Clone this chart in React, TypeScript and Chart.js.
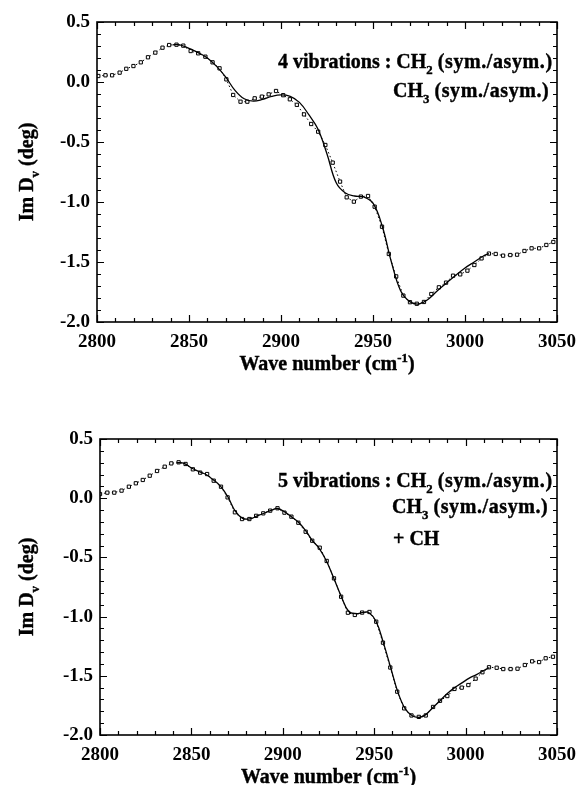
import React, { useEffect, useRef } from 'react';
import { Chart, registerables } from 'chart.js';
Chart.register(...registerables);

const xTickValues = [2800, 2850, 2900, 2950, 3000, 3050];
const yTickValues = [-2.0, -1.5, -1.0, -0.5, 0.0, 0.5];

// ---- upper panel (4 vibrations) ----
const topWave = [2800.7, 2804.6, 2808.2, 2812.3, 2815.9, 2819.8, 2823.8, 2827.7, 2831.7, 2835.6, 2839.2, 2843.2, 2846.9, 2850.9, 2855.0, 2858.9, 2862.8, 2866.6, 2870.3, 2874.0, 2878.0, 2881.7, 2885.7, 2889.6, 2893.3, 2897.3, 2901.2, 2904.8, 2908.6, 2912.5, 2916.4, 2920.2, 2924.1, 2928.1, 2932.1, 2935.7, 2939.6, 2943.4, 2947.3, 2950.9, 2954.9, 2958.6, 2962.6, 2966.5, 2970.1, 2973.8, 2977.7, 2981.7, 2985.8, 2989.7, 2993.5, 2997.4, 3001.3, 3005.1, 3009.0, 3013.0, 3016.7, 3020.7, 3024.6, 3028.3, 3032.3, 3036.2, 3040.3, 3044.2, 3048.0];
const topMeasured = [0.05, 0.056, 0.056, 0.078, 0.11, 0.133, 0.164, 0.206, 0.245, 0.286, 0.308, 0.311, 0.303, 0.258, 0.239, 0.211, 0.164, 0.114, 0.022, -0.108, -0.164, -0.164, -0.136, -0.122, -0.103, -0.075, -0.11, -0.144, -0.19, -0.27, -0.35, -0.414, -0.525, -0.672, -0.83, -0.961, -0.997, -0.955, -0.95, -1.039, -1.206, -1.433, -1.62, -1.78, -1.835, -1.848, -1.833, -1.767, -1.711, -1.672, -1.614, -1.603, -1.572, -1.525, -1.47, -1.43, -1.433, -1.447, -1.442, -1.439, -1.408, -1.386, -1.386, -1.358, -1.333];
const topFitWave = [2841, 2845, 2850, 2855, 2860, 2865, 2870, 2875, 2880, 2885, 2890, 2895, 2900, 2905, 2910, 2915, 2920, 2925, 2930, 2935, 2940, 2945, 2950, 2955, 2960, 2965, 2970, 2975, 2980, 2985, 2990, 2995, 3000, 3005, 3010, 3013];
const topFit = [0.31, 0.31, 0.28, 0.245, 0.2, 0.13, 0.04, -0.07, -0.14, -0.16, -0.145, -0.12, -0.108, -0.12, -0.17, -0.27, -0.39, -0.6, -0.84, -0.925, -0.95, -0.958, -1.01, -1.2, -1.5, -1.74, -1.83, -1.85, -1.81, -1.74, -1.675, -1.61, -1.55, -1.5, -1.45, -1.43];

// ---- lower panel (5 vibrations) ----
const botWave = [2800.0, 2804.0, 2807.8, 2811.8, 2815.8, 2819.6, 2823.4, 2827.2, 2831.2, 2835.4, 2839.0, 2843.0, 2846.8, 2850.8, 2854.8, 2858.6, 2862.2, 2866.2, 2869.8, 2873.8, 2877.7, 2881.7, 2885.4, 2889.3, 2893.1, 2897.1, 2900.9, 2904.7, 2908.5, 2912.5, 2916.1, 2920.2, 2924.0, 2928.0, 2931.9, 2935.6, 2939.4, 2943.4, 2947.4, 2951.1, 2954.8, 2958.8, 2962.6, 2966.4, 2970.4, 2974.4, 2978.2, 2982.2, 2986.0, 2990.0, 2993.9, 2997.9, 3001.5, 3005.5, 3009.2, 3012.8, 3017.0, 3020.6, 3024.6, 3028.4, 3032.4, 3036.4, 3040.2, 3043.8, 3047.8];
const botMeasured = [0.035, 0.047, 0.047, 0.064, 0.097, 0.126, 0.154, 0.19, 0.23, 0.266, 0.294, 0.303, 0.289, 0.244, 0.216, 0.204, 0.148, 0.097, 0.007, -0.119, -0.176, -0.176, -0.149, -0.128, -0.105, -0.085, -0.122, -0.156, -0.207, -0.283, -0.359, -0.418, -0.53, -0.677, -0.832, -0.967, -0.986, -0.966, -0.961, -1.043, -1.22, -1.43, -1.634, -1.775, -1.835, -1.847, -1.835, -1.763, -1.711, -1.671, -1.611, -1.6, -1.578, -1.524, -1.47, -1.428, -1.432, -1.443, -1.443, -1.44, -1.409, -1.378, -1.384, -1.352, -1.339];
const botFitWave = [2842, 2846, 2850, 2855, 2858, 2862, 2866, 2870, 2874, 2878, 2882, 2886, 2890, 2894, 2897, 2901, 2905, 2909, 2913, 2916, 2920, 2924, 2928, 2932, 2936, 2940, 2944, 2947, 2951, 2955, 2959, 2963, 2967, 2971, 2975, 2978, 2982, 2986, 2990, 2994, 2998, 3002, 3006, 3010, 3013];
const botFit = [0.3, 0.295, 0.255, 0.22, 0.2, 0.155, 0.1, 0.01, -0.11, -0.17, -0.175, -0.15, -0.125, -0.1, -0.087, -0.115, -0.16, -0.21, -0.285, -0.355, -0.425, -0.535, -0.68, -0.83, -0.955, -0.975, -0.965, -0.965, -1.04, -1.22, -1.43, -1.64, -1.78, -1.84, -1.85, -1.83, -1.77, -1.71, -1.65, -1.6, -1.56, -1.52, -1.49, -1.455, -1.43];

const FONT_FAMILY = "'Liberation Serif', 'Times New Roman', serif";

type Seg = { t: string; sub?: boolean; sup?: boolean; sp?: number };

function setFont(ctx: CanvasRenderingContext2D, s: Seg, size: number) {
  const fs = s.sub || s.sup ? size * 0.64 : size;
  ctx.font = `bold ${fs}px ${FONT_FAMILY}`;
  (ctx as any).letterSpacing = `${s.sp || 0}px`;
}

function richWidth(ctx: CanvasRenderingContext2D, segs: Seg[], size: number) {
  let w = 0;
  for (const s of segs) {
    setFont(ctx, s, size);
    w += ctx.measureText(s.t).width;
  }
  return w;
}

function drawRich(ctx: CanvasRenderingContext2D, segs: Seg[], x: number, y: number, size: number, center = false) {
  let cx = center ? x - richWidth(ctx, segs, size) / 2 : x;
  ctx.textAlign = 'left';
  ctx.textBaseline = 'alphabetic';
  ctx.fillStyle = '#000';
  ctx.strokeStyle = '#000';
  ctx.lineWidth = 0.4;
  for (const s of segs) {
    setFont(ctx, s, size);
    const dy = s.sub ? size * 0.3 : s.sup ? -size * 0.42 : 0;
    ctx.fillText(s.t, cx, y + dy);
    ctx.strokeText(s.t, cx, y + dy);
    cx += ctx.measureText(s.t).width;
  }
  (ctx as any).letterSpacing = '0px';
}

type PanelText = {
  lines: { segs: Seg[]; x: number; y: number }[];
  xTitleY: number;
  yTitleX: number;
};

function makePlugin(pt: PanelText) {
  return {
    id: 'frameAndText',
    afterDraw(chart: any) {
      const ctx: CanvasRenderingContext2D = chart.ctx;
      const { left, right, top, bottom } = chart.chartArea;
      const xs = chart.scales.x;
      const ys = chart.scales.y;
      ctx.save();
      ctx.strokeStyle = '#000';
      ctx.lineWidth = 1.2;
      for (let v = 2800; v <= 3050; v += 10) {
        const px = Math.round(xs.getPixelForValue(v)) + 0.5;
        const len = v % 50 === 0 ? 7 : 4;
        ctx.beginPath();
        ctx.moveTo(px, bottom);
        ctx.lineTo(px, bottom - len);
        ctx.moveTo(px, top);
        ctx.lineTo(px, top + len);
        ctx.stroke();
      }
      for (let i = -20; i <= 5; i++) {
        const v = i / 10;
        const py = Math.round(ys.getPixelForValue(v)) + 0.5;
        const len = i % 5 === 0 ? 7 : 4;
        ctx.beginPath();
        ctx.moveTo(left, py);
        ctx.lineTo(left + len, py);
        ctx.moveTo(right, py);
        ctx.lineTo(right - len, py);
        ctx.stroke();
      }
      ctx.lineWidth = 1.6;
      ctx.strokeRect(left, top, right - left, bottom - top);

      // axis titles
      drawRich(ctx, [{ t: 'Wave number (cm' }, { t: '-1', sup: true }, { t: ')' }], (left + right) / 2, pt.xTitleY, 20, true);
      ctx.save();
      ctx.translate(pt.yTitleX, (top + bottom) / 2);
      ctx.rotate(-Math.PI / 2);
      drawRich(ctx, [{ t: 'Im D' }, { t: 'v', sub: true }, { t: ' (deg)' }], 0, 6, 20, true);
      ctx.restore();

      for (const ln of pt.lines) drawRich(ctx, ln.segs, ln.x, ln.y, 20);
      ctx.restore();
    },
  };
}

function buildConfig(wave: number[], meas: number[], fitW: number[], fit: number[], yWidth: number, xHeight: number, padding: any, pt: PanelText): any {
  return {
    type: 'line',
    data: {
      datasets: [
        {
          label: 'fit',
          data: fitW.map((x, i) => ({ x, y: fit[i] })),
          borderColor: '#000',
          borderWidth: 1.3,
          pointRadius: 0,
          tension: 0.4,
          fill: false,
          order: 1,
        },
        {
          label: 'measured',
          data: wave.map((x, i) => ({ x, y: meas[i] })),
          borderColor: '#000',
          borderWidth: 1,
          borderDash: [1.5, 2.5],
          pointStyle: 'rect',
          pointRadius: 2.3,
          pointBorderWidth: 1,
          pointBackgroundColor: '#fff',
          pointBorderColor: '#000',
          tension: 0,
          fill: false,
          order: 2,
        },
      ],
    },
    options: {
      animation: false,
      responsive: false,
      layout: { padding },
      plugins: { legend: { display: false }, tooltip: { enabled: false }, title: { display: false } },
      scales: {
        x: {
          type: 'linear',
          min: 2800,
          max: 3050,
          grid: { display: false, drawTicks: false },
          border: { display: false },
          afterBuildTicks: (s: any) => { s.ticks = xTickValues.map((v) => ({ value: v })); },
          afterFit: (s: any) => { s.height = xHeight; },
          ticks: {
            color: '#000',
            padding: 9,
            maxRotation: 0,
            font: { family: FONT_FAMILY, size: 19, weight: 'bold' },
            callback: (v: any) => String(v),
          },
        },
        y: {
          type: 'linear',
          min: -2.0,
          max: 0.5,
          grid: { display: false, drawTicks: false },
          border: { display: false },
          afterBuildTicks: (s: any) => { s.ticks = yTickValues.map((v) => ({ value: v })); },
          afterFit: (s: any) => { s.width = yWidth; },
          ticks: {
            color: '#000',
            padding: 7,
            font: { family: FONT_FAMILY, size: 19, weight: 'bold' },
            callback: (v: any) => Number(v).toFixed(1),
          },
        },
      },
    },
    plugins: [makePlugin(pt)],
  };
}

function Panel(props: { top: number; height: number; cfg: any }) {
  const ref = useRef<HTMLCanvasElement>(null);
  useEffect(() => {
    if (!ref.current) return;
    const ch = new Chart(ref.current, props.cfg);
    return () => ch.destroy();
  }, []);
  return (
    <canvas
      ref={ref}
      width={585}
      height={props.height}
      style={{ position: 'absolute', left: 0, top: props.top, width: 585, height: props.height, display: 'block' }}
    />
  );
}

export default function App() {
  const topText: PanelText = {
    lines: [
      { segs: [{ t: '4 vibrations : CH' }, { t: '2', sub: true }, { t: ' ' }, { t: '(sym./asym.)', sp: 0.6 }], x: 278, y: 68 },
      { segs: [{ t: 'CH' }, { t: '3', sub: true }, { t: ' ' }, { t: '(sym./asym.)', sp: 0.6 }], x: 393, y: 97 },
    ],
    xTitleY: 370,
    yTitleX: 27,
  };
  const botText: PanelText = {
    lines: [
      { segs: [{ t: '5 vibrations : CH' }, { t: '2', sub: true }, { t: ' ' }, { t: '(sym./asym.)', sp: 0.6 }], x: 278, y: 95 },
      { segs: [{ t: 'CH' }, { t: '3', sub: true }, { t: ' ' }, { t: '(sym./asym.)', sp: 0.6 }], x: 392, y: 121 },
      { segs: [{ t: '+ CH' }], x: 393, y: 153 },
    ],
    xTitleY: 391,
    yTitleX: 27,
  };
  const topCfg = buildConfig(topWave, topMeasured, topFitWave, topFit, 97, 60, { left: 0, top: 22, right: 22, bottom: 10 }, topText);
  const botCfg = buildConfig(botWave, botMeasured, botFitWave, botFit, 100, 50, { left: 0, top: 47, right: 26, bottom: 0 }, botText);
  return (
    <div style={{ position: 'absolute', left: 0, top: 0, width: 585, height: 785, background: '#fff' }}>
      <Panel top={0} height={392} cfg={topCfg} />
      <Panel top={392} height={393} cfg={botCfg} />
    </div>
  );
}
